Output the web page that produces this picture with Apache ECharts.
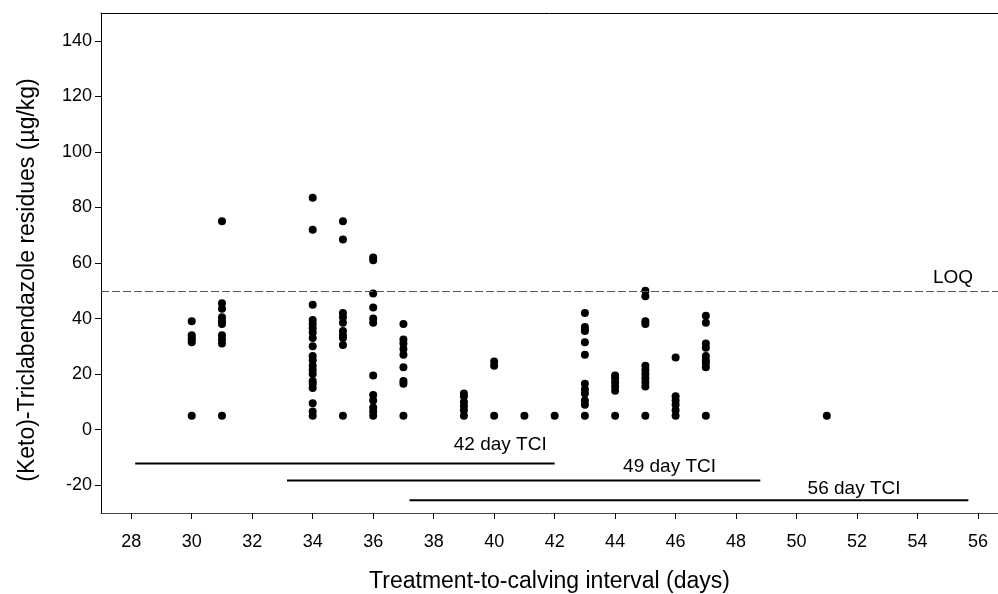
<!DOCTYPE html>
<html>
<head>
<meta charset="utf-8">
<script src="https://cdn.jsdelivr.net/npm/echarts@6/dist/echarts.min.js"></script>
<style>html,body{margin:0;padding:0;background:#fff}#c{width:998px;height:594px}</style>
</head>
<body>
<div id="c"></div>
<script>
// ---- data ----
const intervalDays = [30, 31, 34, 35, 36, 37, 39, 40, 41, 42, 43, 44, 45, 46, 47, 51];
const residues = [
  [39, 34, 33, 32.5, 31.5, 5],
  [75, 45.5, 43.5, 40.5, 39, 38, 34, 32.5, 31, 5],
  [83.5, 72, 45, 39.5, 38, 36.5, 35, 33, 30, 26.5, 25, 23, 21.5, 20, 17.5, 16.5, 15, 9.5, 6.5, 5],
  [75, 68.5, 42, 40.5, 38.5, 35.5, 34, 33, 30.5, 5],
  [62, 61, 49, 44, 40, 38.5, 19.5, 12.5, 10.5, 8, 6.5, 5],
  [38, 32.5, 31, 29, 27, 22.5, 17.5, 16.5, 5],
  [13, 12, 10, 8.5, 7, 5],
  [24.5, 23, 5],
  [5],
  [5],
  [42, 37, 36, 35.5, 31.5, 27, 16.5, 14.5, 13, 10.5, 9, 5],
  [19.5, 18.5, 17, 15.5, 14, 5],
  [50, 48, 39, 38, 23, 21.5, 20, 18.5, 17, 15.5, 5],
  [26, 12, 10.5, 9, 7, 5],
  [41, 38.5, 31, 29.5, 26.5, 25, 24, 22.5, 5],
  [5]
];
const loqValue = 50;
const tciNames = ['42 day TCI', '49 day TCI', '56 day TCI'];
const tciStart = [28.13, 33.15, 37.2];
const tciEnd = [42, 48.8, 55.68];
const tciLevel = [-12.2, -18.3, -25.4];
const tciLabelX = [40.2, 45.8, 51.9];
const tciLabelY = [-5.6, -13.2, -21.1];
const loqLabel = ['LOQ', 55.17, 54.6];
const xTicks = [28, 30, 32, 34, 36, 38, 40, 42, 44, 46, 48, 50, 52, 54, 56];
const yTicks = [-20, 0, 20, 40, 60, 80, 100, 120, 140];

// ---- build ----
const points = [];
intervalDays.forEach((d, i) => residues[i].forEach(v => points.push([d, v])));

const font = '"Liberation Sans", Arial, sans-serif';
const series = [{
  type: 'scatter',
  data: points,
  symbol: 'circle',
  symbolSize: 8,
  itemStyle: { color: '#000', opacity: 1 },
  silent: true,
  markLine: {
    silent: true,
    symbol: 'none',
    label: { show: false },
    lineStyle: { color: '#555', type: [8, 3], width: 1, opacity: 1 },
    data: [{ yAxis: loqValue }]
  },
  z: 3
}];
tciNames.forEach((n, i) => {
  series.push({
    type: 'line',
    data: [[tciStart[i], tciLevel[i]], [tciEnd[i], tciLevel[i]]],
    symbol: 'none',
    lineStyle: { color: '#000', width: 2 },
    silent: true,
    z: 2
  });
});
const textData = tciNames.map((n, i) => ({ value: [tciLabelX[i], tciLabelY[i]], name: n }));
textData.push({ value: [loqLabel[1], loqLabel[2]], name: loqLabel[0] });
series.push({
  type: 'scatter',
  data: textData,
  symbolSize: 0,
  silent: true,
  itemStyle: { opacity: 1 },
  label: {
    show: true,
    position: 'inside',
    formatter: p => p.name,
    color: '#000',
    opacity: 1,
    fontFamily: font,
    fontSize: 19
  },
  z: 4
});

const chart = echarts.init(document.getElementById('c'), null, { renderer: 'canvas' });
chart.setOption({
  animation: false,
  backgroundColor: '#fff',
  grid: { left: 101, top: 13, right: 0, bottom: 81, show: false, outerBoundsMode: 'none', containLabel: false },
  xAxis: [{
    type: 'value', min: 27, max: 56.66,
    name: 'Treatment-to-calving interval (days)',
    nameLocation: 'middle', nameGap: 57,
    nameTextStyle: { fontFamily: font, fontSize: 23, color: '#000' },
    axisLine: { show: true, onZero: false, lineStyle: { color: '#444', width: 1 } },
    axisTick: { show: true, inside: false, length: 6, customValues: xTicks, lineStyle: { color: '#000' } },
    axisLabel: { customValues: xTicks, margin: 20, fontFamily: font, fontSize: 18, color: '#000' },
    splitLine: { show: false }
  }, {
    type: 'value', min: 27, max: 56.66, position: 'top',
    axisLine: { show: true, onZero: false, lineStyle: { color: '#000', width: 1 } },
    axisTick: { show: false }, axisLabel: { show: false }, splitLine: { show: false }
  }],
  yAxis: {
    type: 'value', min: -30, max: 150,
    name: '(Keto)-Triclabendazole residues (µg/kg)',
    nameLocation: 'middle', nameGap: 62,
    nameTextStyle: { fontFamily: font, fontSize: 23, color: '#000', padding: [0, 34, 0, 0] },
    axisLine: { show: true, onZero: false, lineStyle: { color: '#000', width: 1 } },
    axisTick: { show: true, inside: false, length: 6, customValues: yTicks, lineStyle: { color: '#000' } },
    axisLabel: { customValues: yTicks, margin: 9, fontFamily: font, fontSize: 18, color: '#000' },
    splitLine: { show: false }
  },
  series: series
});
</script>
</body>
</html>
